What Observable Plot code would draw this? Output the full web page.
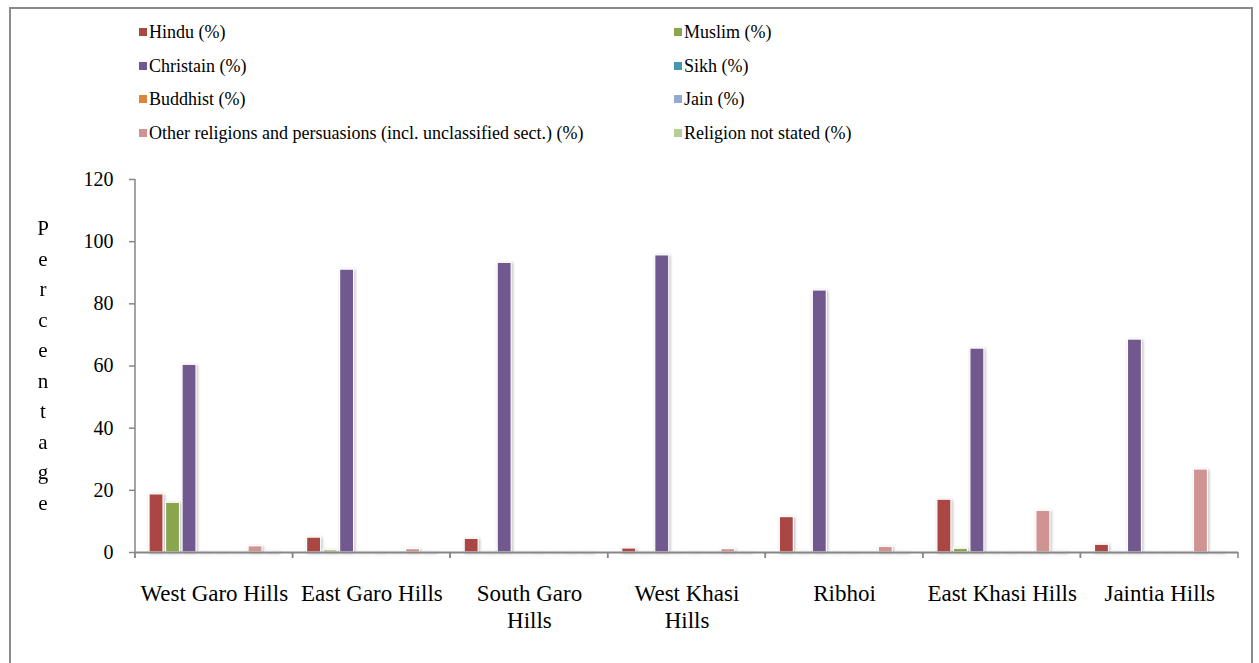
<!DOCTYPE html>
<html>
<head>
<meta charset="utf-8">
<script src="https://cdn.jsdelivr.net/npm/d3@7"></script>
<script src="https://cdn.jsdelivr.net/npm/@observablehq/plot@0.6"></script>
<style>
  html, body { margin: 0; padding: 0; background: #fff; }
  #chart { position: relative; width: 1259px; height: 663px; overflow: hidden;
           font-family: "Liberation Serif", "Times New Roman", serif; color: #000; }
  #frame { position: absolute; left: 9px; top: 7px; width: 1244px; height: 720px;
           border: 2px solid #8a8a8a; box-sizing: border-box; }
  #legend { position: absolute; left: 0; top: 0; width: 1259px; height: 160px; }
  .item { position: absolute; display: flex; align-items: center; font-size: 18px;
          white-space: nowrap; line-height: 1; transform: translateY(-50%); }
  .swatch { width: 8px; height: 8px; margin-right: 2px; flex: none; }
  #plot { position: absolute; left: 0; top: 160px; }
</style>
</head>
<body>
<div id="chart">
  <div id="frame"></div>
  <div id="legend"></div>
  <div id="plot"></div>
</div>
<script>
// Districts of Meghalaya and their axis labels
const districts = ["West Garo Hills", "East Garo Hills", "South Garo Hills", "West Khasi Hills",
                   "Ribhoi", "East Khasi Hills", "Jaintia Hills"];
const districtLabels = ["West Garo Hills", "East Garo Hills", "South Garo\nHills", "West Khasi\nHills",
                        "Ribhoi", "East Khasi Hills", "Jaintia Hills"];

// Religion series, in legend order
const religions = ["Hindu (%)", "Muslim (%)", "Christain (%)", "Sikh (%)", "Buddhist (%)", "Jain (%)",
                   "Other religions and persuasions (incl. unclassified sect.) (%)", "Religion not stated (%)"];
const colors = ["#AA4643", "#89A54E", "#71588F", "#4198AF", "#DB843D", "#93A9CF", "#D19392", "#B9CD96"];

// Share of population (%) per district, one array per religion
const hindu     = [18.7, 4.8, 4.4, 1.3, 11.4, 17.0, 2.5];
const muslim    = [16.0, 0.7, 0.2, 0.1, 0.3, 1.2, 0.2];
const christian = [60.4, 91.0, 93.2, 95.6, 84.3, 65.6, 68.5];
const sikh      = [0.05, 0.02, 0.02, 0.01, 0.05, 0.1, 0.02];
const buddhist  = [0.1, 0.1, 0.1, 0.05, 0.1, 0.2, 0.05];
const jain      = [0.02, 0.01, 0.01, 0.01, 0.02, 0.05, 0.01];
const other     = [2.0, 1.1, 0.2, 1.1, 1.8, 13.4, 26.7];
const notStated = [0.3, 0.2, 0.2, 0.1, 0.2, 0.3, 0.1];

const yTicks = [0, 20, 40, 60, 80, 100, 120];
const yTitle = "Percentage";

const series = [hindu, muslim, christian, sikh, buddhist, jain, other, notStated];
const rows = [];
religions.forEach((r, i) => districts.forEach((d, j) => rows.push({district: d, religion: r, value: series[i][j]})));

// Legend: two columns, four rows
const legend = d3.select("#legend");
const colX = [139, 674];
const rowY = [32, 65.5, 99, 133];
religions.forEach((r, i) => {
  const item = legend.append("div").attr("class", "item")
    .style("left", colX[i % 2] + "px").style("top", rowY[Math.floor(i / 2)] + "px");
  item.append("div").attr("class", "swatch").style("background", colors[i]);
  item.append("span").text(r);
});

const labelOf = new Map(districts.map((d, i) => [d, districtLabels[i]]));
const axisGray = "#868686";

const plot = Plot.plot({
  width: 1259,
  height: 503,
  marginLeft: 135,
  marginRight: 21,
  marginTop: 19,
  marginBottom: 111,
  style: {fontFamily: "'Liberation Serif', 'Times New Roman', serif", fontSize: "20px", color: "#000",
          background: "transparent", overflow: "visible"},
  fx: {domain: districts, padding: 0, round: false, label: null},
  x: {domain: religions, paddingInner: 0.15, paddingOuter: 0.85, round: false, axis: null},
  y: {domain: [0, 120], label: null},
  color: {domain: religions, range: colors},
  marks: [
    Plot.axisY({ticks: yTicks, tickSize: 6, tickPadding: 16, stroke: axisGray, strokeWidth: 1.5,
                fill: "#000", fontSize: 20, label: null}),
    Plot.axisFx({anchor: "bottom", tickSize: 0, tickPadding: 29, label: null, fill: "#000",
                 fontSize: 23, lineHeight: 1.17, tickFormat: d => labelOf.get(d)}),
    Plot.barY(rows, {fx: "district", x: "religion", y: "value", fill: "religion",
                     stroke: "white", strokeWidth: 1.2}),
    Plot.ruleY([0], {stroke: axisGray, strokeWidth: 1.8})
  ]
});

document.getElementById("plot").appendChild(plot);

// Soft shadow behind the bars
d3.select(plot).selectAll('g[aria-label="bar"]')
  .style("filter", "drop-shadow(1.5px 1px 1.5px rgba(0,0,0,0.28))");

// Axis lines and category boundary ticks drawn from the plot's own scales
const fx = plot.scale("fx");
const y = plot.scale("y");
const svg = d3.select(plot);
const g = svg.append("g").attr("stroke", axisGray).attr("stroke-width", 1.5);
const x0 = fx.apply(districts[0]);
g.append("line").attr("x1", x0).attr("x2", x0).attr("y1", y.apply(120)).attr("y2", y.apply(0) + 6);
districts.forEach(d => {
  const a = fx.apply(d), b = a + fx.bandwidth;
  [a, b].forEach(px => g.append("line").attr("x1", px).attr("x2", px)
    .attr("y1", y.apply(0)).attr("y2", y.apply(0) + 6));
});

// Vertical axis title, one letter per line
const title = svg.append("text").attr("text-anchor", "middle")
  .attr("font-size", 21).attr("fill", "#000");
[...yTitle].forEach((ch, i) => title.append("tspan").attr("x", 43).attr("y", 75 + i * 30.5).text(ch));
</script>
</body>
</html>
